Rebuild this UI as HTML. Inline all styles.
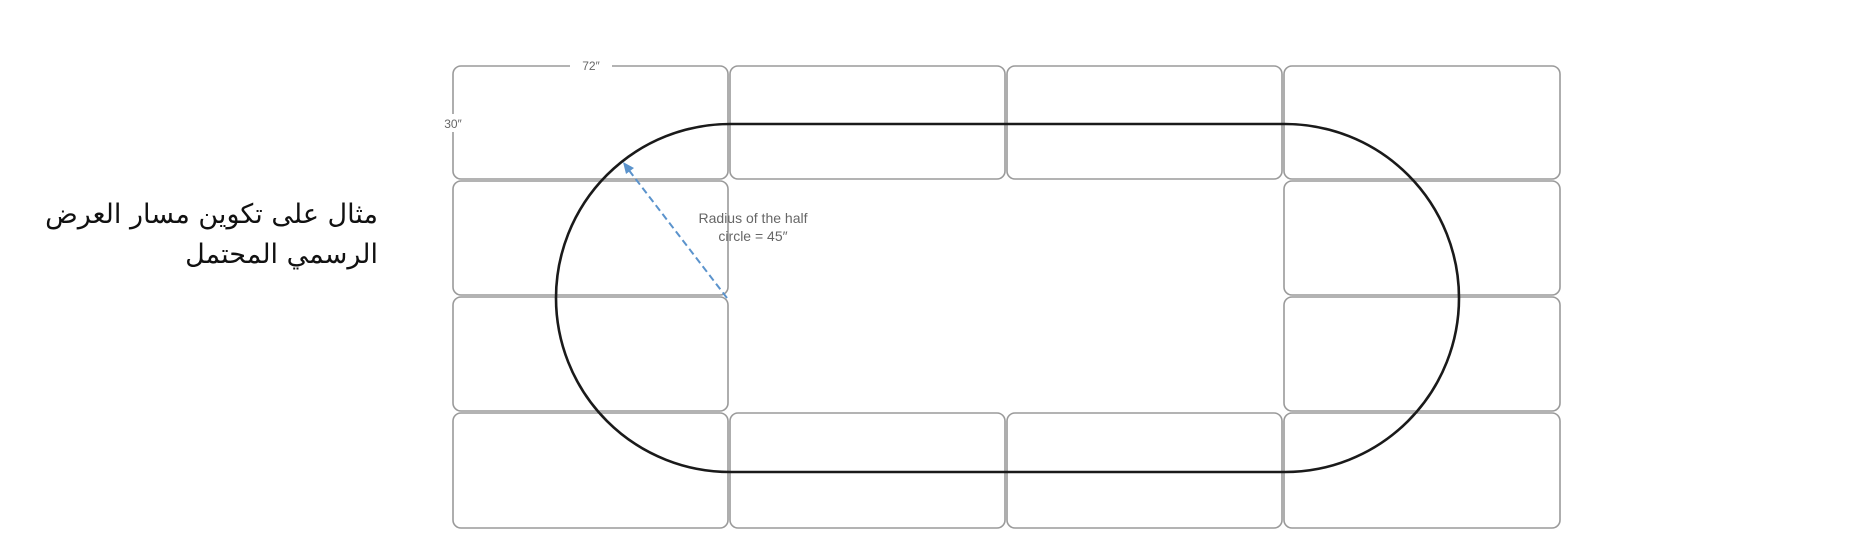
<!DOCTYPE html>
<html><head><meta charset="utf-8"><style>
html,body{margin:0;padding:0;background:#fff;width:1874px;height:553px;overflow:hidden}
.ar{position:absolute;right:1496px;top:195px;font-family:"DejaVu Sans",sans-serif;font-size:27px;line-height:40px;text-align:right;direction:rtl;color:#111;white-space:nowrap}
</style></head><body>
<div class="ar">مثال على تكوين مسار العرض<br>الرسمي المحتمل</div>
<svg width="1874" height="553" style="position:absolute;left:0;top:0" xmlns="http://www.w3.org/2000/svg">
<g fill="none" stroke="#9a9a9a" stroke-width="1.6">
<rect x="453" y="66" width="275" height="113" rx="8"/>
<rect x="730" y="66" width="275" height="113" rx="8"/>
<rect x="1007" y="66" width="275" height="113" rx="8"/>
<rect x="1284" y="66" width="276" height="113" rx="8"/>
<rect x="453" y="181" width="275" height="114" rx="8"/>
<rect x="1284" y="181" width="276" height="114" rx="8"/>
<rect x="453" y="297" width="275" height="114" rx="8"/>
<rect x="1284" y="297" width="276" height="114" rx="8"/>
<rect x="453" y="413" width="275" height="115" rx="8"/>
<rect x="730" y="413" width="275" height="115" rx="8"/>
<rect x="1007" y="413" width="275" height="115" rx="8"/>
<rect x="1284" y="413" width="276" height="115" rx="8"/>
</g>
<rect x="570" y="58" width="42" height="16" fill="#fff"/>
<rect x="444" y="114" width="16" height="18" fill="#fff"/>
<g font-family="Liberation Sans,sans-serif" fill="#666" font-size="12">
<text x="591" y="70" text-anchor="middle">72″</text>
<text x="453" y="128" text-anchor="middle">30″</text>
</g>
<path d="M730 124 L1285 124 A174 174 0 0 1 1285 472 L730 472 A174 174 0 0 1 730 124 Z" fill="none" stroke="#1a1a1a" stroke-width="2.6"/>
<line x1="727" y1="298" x2="628" y2="169" stroke="#5b93cc" stroke-width="2" stroke-dasharray="7,4"/>
<polygon points="623,162 634,168 626,174" fill="#5b93cc"/>
<g font-family="Liberation Sans,sans-serif" fill="#666" font-size="14">
<text x="753" y="223" text-anchor="middle">Radius of the half</text>
<text x="753" y="241" text-anchor="middle">circle = 45″</text>
</g>
</svg>
</body></html>
